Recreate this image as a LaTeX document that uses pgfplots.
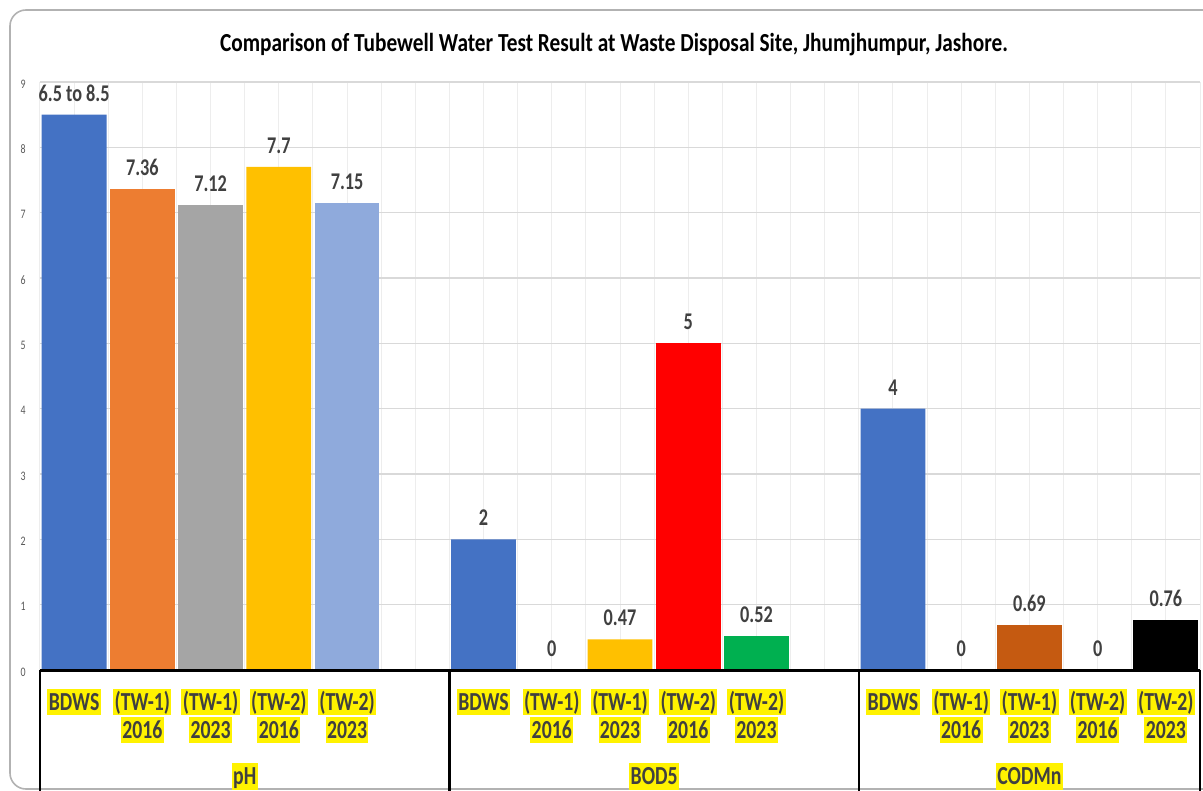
\documentclass[border=0pt]{standalone}
\usepackage{pgfplots}
\pgfplotsset{compat=1.18}
\usepackage{fontspec}
\setmainfont{Carlito}[FakeStretch=0.76]
\newfontfamily\titlefont{Carlito}[FakeStretch=0.82]
\definecolor{cBlue}{HTML}{4472C4}
\definecolor{cOrange}{HTML}{ED7D31}
\definecolor{cGray}{HTML}{A5A5A5}
\definecolor{cGold}{HTML}{FFC000}
\definecolor{cLBlue}{HTML}{8FAADC}
\definecolor{cGreen}{HTML}{00B050}
\definecolor{cBrown}{HTML}{C55A11}
\definecolor{lab}{HTML}{404040}
\definecolor{ticklab}{HTML}{595959}
\definecolor{hgrid}{HTML}{D9D9D9}
\definecolor{vgrid}{HTML}{EDEDED}
\newcommand{\hl}[1]{{\setlength{\fboxsep}{0.7pt}\colorbox{yellow}{\vphantom{(}#1}}}
\pgfplotsset{mybar/.style={ybar, bar shift=0pt, bar width=0.95, draw=none, fill=#1,
  nodes near coords, point meta=explicit symbolic}}
\begin{document}
\begin{tikzpicture}
\useasboundingbox (0,0) rectangle (601.5pt,-395.5pt);
\draw[gray!60, line width=0.8pt, rounded corners=8pt] (5pt,-5pt) rectangle (640pt,-394.5pt);
\node[font=\titlefont\bfseries\fontsize{13}{15}\selectfont, text=black] at (307pt,-22.5pt)
  {Comparison of Tubewell Water Test Result at Waste Disposal Site, Jhumjhumpur, Jashore.};
\begin{axis}[
  at={(20pt,-335pt)}, anchor=south west,
  scale only axis, width=580pt, height=294pt,
  xmin=-0.5, xmax=16.5, ymin=0, ymax=9,
  ytick={0,...,9},
  xtick={0,...,16},
  minor xtick={-0.5,0.5,...,16.5},
  xmajorgrids, xminorgrids, ymajorgrids,
  x grid style={vgrid, line width=0.5pt},
  y grid style={hgrid, line width=0.6pt},
  axis line style={draw=none},
  major tick style={draw=none}, minor tick style={draw=none},
  clip=false,
  /pgf/number format/assume math mode=true,
  yticklabel style={font=\fontsize{6.5}{7}\selectfont, text=ticklab, anchor=east, inner sep=0pt, xshift=-7pt, yshift=-1pt},
  xticklabels={{\hl{BDWS}}, {\hl{(TW-1)}\\\hl{2016}}, {\hl{(TW-1)}\\\hl{2023}}, {\hl{(TW-2)}\\\hl{2016}}, {\hl{(TW-2)}\\\hl{2023}}, {},
    {\hl{BDWS}}, {\hl{(TW-1)}\\\hl{2016}}, {\hl{(TW-1)}\\\hl{2023}}, {\hl{(TW-2)}\\\hl{2016}}, {\hl{(TW-2)}\\\hl{2023}}, {},
    {\hl{BDWS}}, {\hl{(TW-1)}\\\hl{2016}}, {\hl{(TW-1)}\\\hl{2023}}, {\hl{(TW-2)}\\\hl{2016}}, {\hl{(TW-2)}\\\hl{2023}}},
  xticklabel style={font=\bfseries\fontsize{13}{14}\selectfont, text=lab, align=center, anchor=north, inner sep=0pt, yshift=-9.5pt},
  every node near coord/.append style={font=\bfseries\fontsize{12}{14}\selectfont, text=lab, inner sep=0pt, anchor=south, yshift=6.5pt},
]
\addplot[mybar=cBlue] coordinates {(0,8.5) [6.5 to 8.5] (6,2) [2] (12,4) [4]};
\addplot[mybar=cOrange] coordinates {(1,7.36) [7.36]};
\addplot[mybar=cGray] coordinates {(2,7.12) [7.12]};
\addplot[mybar=cGold] coordinates {(3,7.7) [7.7] (8,0.47) [0.47]};
\addplot[mybar=cLBlue] coordinates {(4,7.15) [7.15]};
\addplot[mybar=white] coordinates {(7,0) [0] (13,0) [0] (15,0) [0]};
\addplot[mybar=red] coordinates {(9,5) [5]};
\addplot[mybar=cGreen] coordinates {(10,0.52) [0.52]};
\addplot[mybar=cBrown] coordinates {(14,0.69) [0.69]};
\addplot[mybar=black] coordinates {(16,0.76) [0.76]};
\draw[line width=1.5pt] (axis cs:-0.5,0) -- (axis cs:16.5,0);
\draw[line width=1.2pt] (axis cs:-0.5,0) -- (axis cs:-0.5,-2.2);
\draw[line width=1.2pt] (axis cs:5.5,0) -- (axis cs:5.5,-2.2);
\draw[line width=1.2pt] (axis cs:11.5,0) -- (axis cs:11.5,-2.2);
\draw[line width=1.2pt] (axis cs:16.5,0) -- (axis cs:16.5,-2.2);
\node[font=\bfseries\fontsize{13}{15}\selectfont, text=lab, inner sep=0pt] at (axis cs:2.5,-1.63) {\hl{pH}};
\node[font=\bfseries\fontsize{13}{15}\selectfont, text=lab, inner sep=0pt] at (axis cs:8.5,-1.63) {\hl{BOD5}};
\node[font=\bfseries\fontsize{13}{15}\selectfont, text=lab, inner sep=0pt] at (axis cs:14,-1.63) {\hl{CODMn}};
\end{axis}
\end{tikzpicture}
\end{document}
